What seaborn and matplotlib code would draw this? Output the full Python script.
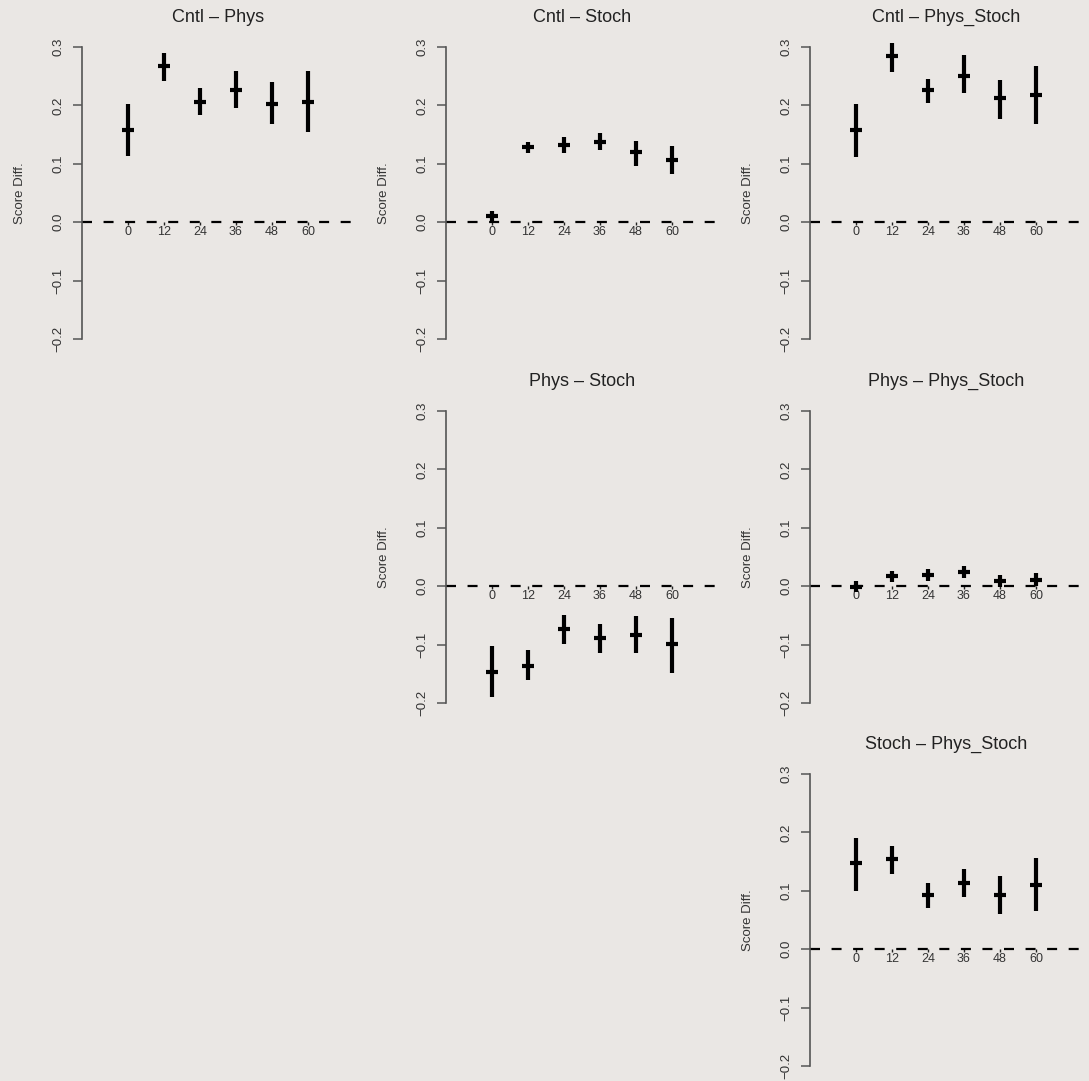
import numpy as np
import pandas as pd
import matplotlib
matplotlib.use("Agg")
import matplotlib.pyplot as plt
import seaborn as sns

# ---- data -------------------------------------------------------------
lead_times = [0, 12, 24, 36, 48, 60]

titles = ["Cntl \u2013 Phys", "Cntl \u2013 Stoch", "Cntl \u2013 Phys_Stoch",
          "Phys \u2013 Stoch", "Phys \u2013 Phys_Stoch", "Stoch \u2013 Phys_Stoch"]

# (row, col) in the 3x3 upper-triangle layout
panel_rc = [(0, 0), (0, 1), (0, 2), (1, 1), (1, 2), (2, 2)]

cntl_phys_mid = [0.158, 0.268, 0.206, 0.226, 0.203, 0.206]
cntl_phys_lo = [0.114, 0.242, 0.183, 0.195, 0.169, 0.155]
cntl_phys_hi = [0.203, 0.290, 0.229, 0.259, 0.240, 0.259]

cntl_stoch_mid = [0.010, 0.128, 0.132, 0.137, 0.121, 0.107]
cntl_stoch_lo = [0.002, 0.119, 0.119, 0.123, 0.096, 0.082]
cntl_stoch_hi = [0.020, 0.137, 0.146, 0.153, 0.139, 0.130]

cntl_ps_mid = [0.158, 0.284, 0.226, 0.250, 0.212, 0.218]
cntl_ps_lo = [0.111, 0.258, 0.204, 0.222, 0.177, 0.168]
cntl_ps_hi = [0.202, 0.306, 0.245, 0.286, 0.244, 0.268]

phys_stoch_mid = [-0.147, -0.136, -0.073, -0.088, -0.083, -0.099]
phys_stoch_lo = [-0.190, -0.161, -0.099, -0.114, -0.114, -0.149]
phys_stoch_hi = [-0.103, -0.110, -0.050, -0.064, -0.051, -0.055]

phys_ps_mid = [-0.001, 0.017, 0.019, 0.025, 0.009, 0.010]
phys_ps_lo = [-0.010, 0.007, 0.009, 0.014, -0.001, 0.000]
phys_ps_hi = [0.009, 0.026, 0.029, 0.034, 0.019, 0.022]

stoch_ps_mid = [0.147, 0.154, 0.093, 0.113, 0.093, 0.110]
stoch_ps_lo = [0.099, 0.129, 0.070, 0.089, 0.060, 0.066]
stoch_ps_hi = [0.190, 0.177, 0.114, 0.137, 0.125, 0.157]

mids = [cntl_phys_mid, cntl_stoch_mid, cntl_ps_mid, phys_stoch_mid, phys_ps_mid, stoch_ps_mid]
los = [cntl_phys_lo, cntl_stoch_lo, cntl_ps_lo, phys_stoch_lo, phys_ps_lo, stoch_ps_lo]
his = [cntl_phys_hi, cntl_stoch_hi, cntl_ps_hi, phys_stoch_hi, phys_ps_hi, stoch_ps_hi]

ytick_vals = [-0.2, -0.1, 0.0, 0.1, 0.2, 0.3]
ytick_labels = ["\u22120.2", "\u22120.1", "0.0", "0.1", "0.2", "0.3"]
ylabel = "Score Diff."

# ---- style ------------------------------------------------------------
BG = "#eae7e4"
sns.set_theme(style="ticks")
plt.rcParams["font.family"] = ["Liberation Sans", "DejaVu Sans"]
plt.rcParams["figure.facecolor"] = BG
plt.rcParams["axes.facecolor"] = BG
plt.rcParams["savefig.facecolor"] = BG

W, H = 1089, 1081
fig = plt.figure(figsize=(W / 100, H / 100), dpi=100)

col_left = [82, 446, 810]
row_top = [47, 411, 774]
pw, ph = 273, 292

for i, (r, c) in enumerate(panel_rc):
    left = col_left[c]
    top = row_top[r]
    ax = fig.add_axes([left / W, 1 - (top + ph) / H, pw / W, ph / H])
    df = pd.DataFrame({"lead": lead_times, "mid": mids[i], "lo": los[i], "hi": his[i]})

    ax.axhline(0, color="black", lw=1.6, ls=(0, (4.5, 5.2)), zorder=1)
    ax.vlines(df["lead"], df["lo"], df["hi"], color="black", lw=3.0, zorder=3, clip_on=False)
    sns.scatterplot(data=df, x="lead", y="mid", marker="_", s=85, linewidth=3.0,
                    color="black", ax=ax, zorder=4, clip_on=False, legend=False)

    ax.set_xlim(-15.33, 75.67)
    ax.set_ylim(-0.2, 0.3)

    for s in ["top", "right"]:
        ax.spines[s].set_visible(False)
    ax.spines["bottom"].set_position(("data", 0))
    ax.spines["bottom"].set_visible(False)
    ax.spines["left"].set_bounds(-0.2, 0.3)
    ax.spines["left"].set_color("#555555")
    ax.spines["left"].set_linewidth(1.2)

    ax.set_yticks(ytick_vals)
    ax.set_yticklabels(ytick_labels, rotation=90, va="center")
    ax.tick_params(axis="y", length=6.5, width=1.1, color="#555555", pad=6,
                   labelsize=9.5, labelcolor="#333333")
    ax.set_xticks(lead_times)
    ax.set_xticklabels([str(v) for v in lead_times])
    ax.tick_params(axis="x", length=2.5, width=1.0, color="#222222", pad=0.2,
                   labelsize=9, labelcolor="#333333")

    ax.set_xlabel("")
    ax.set_ylabel(ylabel, fontsize=9.5, color="#333333")
    ax.yaxis.set_label_coords(-0.205, 0.5)
    ax.set_title(titles[i], fontsize=13, color="#222222", pad=18)

fig.savefig("out.png", dpi=100, facecolor=BG)
